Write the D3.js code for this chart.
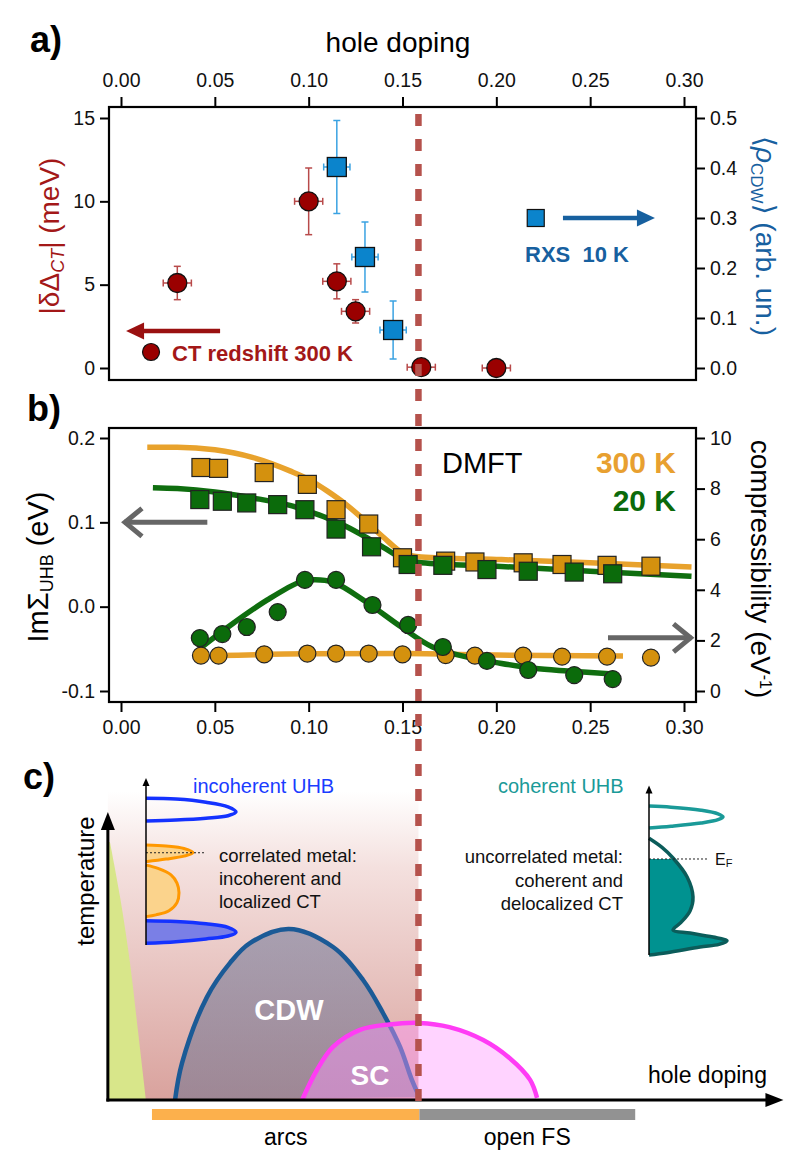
<!DOCTYPE html>
<html><head><meta charset="utf-8">
<script src="https://cdn.jsdelivr.net/npm/d3@7"></script>
<style>
body{margin:0;background:#fff}
svg{display:block}
text{font-family:"Liberation Sans",Arial,Helvetica,sans-serif}
</style>
</head><body>
<svg id="chart" width="800" height="1163"></svg>
<script>
// ---------------- data ----------------
const dopingTicks = [0, 0.05, 0.10, 0.15, 0.20, 0.25, 0.30];
const shiftTicks = [0, 5, 10, 15];
const rhoTicks = [0, 0.1, 0.2, 0.3, 0.4, 0.5];
const imSigmaTicks = [-0.1, 0.0, 0.1, 0.2];
const compTicks = [0, 2, 4, 6, 8, 10];

// panel a: CT redshift (300 K)
const ctDoping = [0.03, 0.10, 0.115, 0.125, 0.16, 0.20];
const ctShift = [5.1, 10.0, 5.2, 3.4, 0.05, 0.0];
const ctShiftErr = [1.0, 2.0, 1.05, 0.7, 0, 0];
const ctDopingErr = [0.0075, 0.0075, 0.0075, 0.0075, 0.0075, 0.0075];
// panel a: RXS CDW (10 K)
const rxsDoping = [0.115, 0.13, 0.145];
const rxsRho = [0.402, 0.222, 0.076];
const rxsRhoErr = [0.093, 0.07, 0.058];
const rxsDopingErr = [0.007, 0.007, 0.007];

// panel b: DMFT ImSigma (squares) and compressibility (circles)
const sq300Doping = [0.0426, 0.052, 0.0763, 0.0993, 0.1146, 0.132, 0.150, 0.173, 0.1886, 0.2143, 0.235, 0.259, 0.2824];
const sq300 = [0.165, 0.164, 0.159, 0.145, 0.115, 0.098, 0.058, 0.054, 0.053, 0.052, 0.050, 0.049, 0.048];
const sq20Doping = [0.042, 0.054, 0.067, 0.0835, 0.098, 0.1146, 0.1335, 0.153, 0.1715, 0.195, 0.217, 0.2415, 0.262];
const sq20 = [0.127, 0.125, 0.123, 0.121, 0.115, 0.092, 0.071, 0.050, 0.049, 0.044, 0.042, 0.041, 0.039];
const circ300Doping = [0.0426, 0.052, 0.0763, 0.0993, 0.1146, 0.132, 0.150, 0.173, 0.1886, 0.2143, 0.235, 0.259, 0.2824];
const circ300 = [1.40, 1.40, 1.45, 1.48, 1.48, 1.48, 1.45, 1.42, 1.40, 1.40, 1.36, 1.36, 1.32];
const circ20Doping = [0.042, 0.054, 0.067, 0.0835, 0.098, 0.1146, 0.134, 0.153, 0.1715, 0.195, 0.217, 0.2415, 0.262];
const circ20 = [2.09, 2.25, 2.53, 3.12, 4.39, 4.39, 3.40, 2.61, 1.74, 1.19, 0.83, 0.63, 0.47];
// fit curves
const fit300SqDoping = [0.014, 0.03, 0.05, 0.07, 0.09, 0.10, 0.11, 0.12, 0.13, 0.14, 0.15, 0.16, 0.20, 0.25, 0.304];
const fit300Sq = [0.189, 0.189, 0.186, 0.177, 0.161, 0.151, 0.137, 0.121, 0.102, 0.082, 0.064, 0.059, 0.056, 0.052, 0.047];
const fit20SqDoping = [0.017, 0.03, 0.05, 0.07, 0.09, 0.10, 0.11, 0.12, 0.13, 0.14, 0.15, 0.16, 0.20, 0.25, 0.304];
const fit20Sq = [0.141, 0.140, 0.136, 0.129, 0.120, 0.113, 0.105, 0.095, 0.083, 0.070, 0.057, 0.052, 0.048, 0.042, 0.036];
const fit20CircDoping = [0.043, 0.06, 0.078, 0.095, 0.102, 0.113, 0.131, 0.149, 0.166, 0.184, 0.202, 0.22, 0.238, 0.262];
const fit20Circ = [1.74, 2.69, 3.6, 4.3, 4.4, 4.3, 3.5, 2.55, 1.74, 1.35, 1.1, 0.9, 0.79, 0.67];
const fit300CircDoping = [0.052, 0.10, 0.15, 0.20, 0.2675];
const fit300Circ = [1.40, 1.47, 1.48, 1.42, 1.38];

// panel c: schematic phase diagram (doping, normalised temperature)
const greenDoping = [-0.0059, -0.0005, 0.0048, 0.009, 0.0133];
const greenT = [0.86, 0.677, 0.457, 0.233, 0.0];
const cdwDoping = [0.0288, 0.0325, 0.0458, 0.0581, 0.0687, 0.0895, 0.113, 0.129, 0.1396, 0.1487, 0.155, 0.159];
const cdwT = [0, 0.123, 0.343, 0.457, 0.523, 0.57, 0.51, 0.40, 0.29, 0.177, 0.067, 0.01];
const scDoping = [0.0965, 0.1044, 0.113, 0.127, 0.143, 0.159, 0.175, 0.193, 0.207, 0.218, 0.2217];
const scT = [0, 0.1, 0.177, 0.233, 0.252, 0.257, 0.243, 0.2, 0.14, 0.067, 0.007];
const arcsRange = [0.0165, 0.159];
const openFSRange = [0.159, 0.274];
const criticalDoping = 0.1585;
// inset spectra [energy, DOS]
const uhbTopLeft = [[0.9,0],[0.895,0.3],[0.876,0.6],[0.848,0.82],[0.816,0.9],[0.793,0.82],[0.778,0.6],[0.767,0.3],[0.761,0]];
const uhbBotLeft = [[0.149,0],[0.144,0.3],[0.13,0.6],[0.108,0.82],[0.078,0.9],[0.055,0.82],[0.037,0.6],[0.02,0.3],[0.010,0]];
const qpLeft = [[0.613,0],[0.607,0.2],[0.592,0.38],[0.566,0.47],[0.545,0.38],[0.527,0.2],[0.511,0]];
const humpLeft = [[0.49,0],[0.47,0.12],[0.43,0.25],[0.38,0.31],[0.32,0.33],[0.26,0.31],[0.21,0.23],[0.185,0.1],[0.174,0]];
const uhbTopRight = [[0.914,0],[0.907,0.22],[0.888,0.52],[0.866,0.69],[0.847,0.74],[0.83,0.69],[0.81,0.52],[0.79,0.22],[0.779,0]];
const bandRight = [[0.716,0],[0.66,0.13],[0.595,0.24],[0.48,0.38],[0.357,0.44],[0.27,0.41],[0.2,0.32],[0.153,0.24],[0.135,0.41],[0.11,0.64],[0.087,0.78],[0.065,0.7],[0.049,0.51],[0.014,0.18],[0,0]];
const fermiLeft = 0.566, fermiRight = 0.589;

// ---------------- scales ----------------
const svg = d3.select("#chart");
const x = d3.scaleLinear([0, 0.3], [121, 684]);
const yA = d3.scaleLinear([0, 15], [368, 118]);
const yA2 = d3.scaleLinear([0, 0.5], [368, 118]);
const yB = d3.scaleLinear([-0.1, 0.2], [691, 438]);
const yB2 = d3.scaleLinear([0, 10], [691, 438]);
const yC = d3.scaleLinear([0, 1], [1100, 800]);
const eL = d3.scaleLinear([0, 1], [945, 782]);
const dL = d3.scaleLinear([0, 1], [146, 246]);
const eR = d3.scaleLinear([0, 1], [955, 792]);
const dR = d3.scaleLinear([0, 1], [649, 749]);

const RED = "#9a0000", REDERR = "#b84a4a", REDTXT = "#a31818";
const BLUE = "#0b84cc", BLUEERR = "#3aa2e2", BLUETXT = "#17609f";
const OR_FILL = "#d4910e", OR_LINE = "#e8a22c", OR_TXT = "#e8a030";
const GR_FILL = "#0b6b0b", GR_LINE = "#0f6e0f", GR_TXT = "#0b6a0b";
const DASH = "#b5524c";
const TICKFONT = "DejaVu Sans";

const defs = svg.append("defs");

// ---------------- panel c (drawn first, background) ----------------
const pg = defs.append("linearGradient").attr("id", "pinkG").attr("x1", 0).attr("y1", 0).attr("x2", 0).attr("y2", 1);
pg.append("stop").attr("offset", "0%").attr("stop-color", "#ffffff");
pg.append("stop").attr("offset", "25%").attr("stop-color", "#f4e0de");
pg.append("stop").attr("offset", "100%").attr("stop-color", "#d9a29d");

const gC = svg.append("g");
gC.append("rect").attr("x", x(-0.007)).attr("y", yC(1.03)).attr("width", x(criticalDoping) - x(-0.007))
  .attr("height", yC(0) - yC(1.03)).attr("fill", "url(#pinkG)");

// green region
const greenPts = greenDoping.map((d, i) => [x(d), yC(greenT[i])]);
const greenPath = d3.line().curve(d3.curveCatmullRom)(greenPts) +
  `L${x(-0.007)},${yC(0)}L${x(-0.007)},${yC(0.86)}Z`;
gC.append("path").attr("d", greenPath).attr("fill", "#d8e68a");

// CDW dome
const domeLine = d3.line().curve(d3.curveCatmullRom);
const cdwPts = cdwDoping.map((d, i) => [x(d), yC(cdwT[i])]);
const cdwG = defs.append("linearGradient").attr("id", "cdwG").attr("x1", 0).attr("y1", 0).attr("x2", 0).attr("y2", 1);
cdwG.append("stop").attr("offset", "0%").attr("stop-color", "rgba(105,115,150,0.52)");
cdwG.append("stop").attr("offset", "100%").attr("stop-color", "rgba(100,108,140,0.5)");
gC.append("path").attr("d", domeLine(cdwPts) + "Z").attr("fill", "url(#cdwG)");
gC.append("path").attr("d", domeLine(cdwPts)).attr("fill", "none").attr("stroke", "#1b5a96").attr("stroke-width", 4.5);

// SC dome
const scPts = scDoping.map((d, i) => [x(d), yC(scT[i])]);
gC.append("path").attr("d", domeLine(scPts) + "Z").attr("fill", "rgba(255,150,255,0.42)");
gC.append("path").attr("d", domeLine(scPts)).attr("fill", "none").attr("stroke", "#ff3cf5").attr("stroke-width", 4.5);

gC.append("text").attr("x", x(0.0895)).attr("y", yC(0.3) + 10).attr("text-anchor", "middle")
  .attr("font-size", 29).attr("font-weight", "bold").attr("fill", "#fff").text("CDW");
gC.append("text").attr("x", x(0.1327)).attr("y", yC(0.083) + 10).attr("text-anchor", "middle")
  .attr("font-size", 28).attr("font-weight", "bold").attr("fill", "#fff").text("SC");

// axes of c
function arrowHead(g, tipX, tipY, dir, len, half, color) {
  let pts;
  if (dir === "up") pts = [[tipX, tipY], [tipX - half, tipY + len], [tipX + half, tipY + len]];
  else if (dir === "right") pts = [[tipX, tipY], [tipX - len, tipY - half], [tipX - len, tipY + half]];
  else pts = [[tipX, tipY], [tipX + len, tipY - half], [tipX + len, tipY + half]];
  g.append("path").attr("d", d3.line()(pts) + "Z").attr("fill", color);
}
gC.append("line").attr("x1", x(-0.007)).attr("x2", x(-0.007)).attr("y1", yC(0) + 1.5).attr("y2", yC(0.9))
  .attr("stroke", "#000").attr("stroke-width", 3);
arrowHead(gC, x(-0.007), yC(0.96), "up", 18, 7, "#000");
gC.append("line").attr("x1", x(-0.007) - 1.5).attr("x2", x(0.345)).attr("y1", yC(0)).attr("y2", yC(0))
  .attr("stroke", "#000").attr("stroke-width", 3);
arrowHead(gC, x(0.353), yC(0), "right", 18, 7, "#000");
gC.append("text").attr("transform", `translate(94,${yC(0.73)}) rotate(-90)`).attr("text-anchor", "middle")
  .attr("font-size", 24).attr("fill", "#000").text("temperature");
gC.append("text").attr("x", 648).attr("y", 1083).attr("font-size", 23).attr("fill", "#000").text("hole doping");

// bars
gC.append("rect").attr("x", x(arcsRange[0])).attr("y", 1109).attr("width", x(arcsRange[1]) - x(arcsRange[0]))
  .attr("height", 11).attr("fill", "#fcb04c");
gC.append("rect").attr("x", x(openFSRange[0])).attr("y", 1109).attr("width", x(openFSRange[1]) - x(openFSRange[0]))
  .attr("height", 11).attr("fill", "#929292");
gC.append("text").attr("x", x((arcsRange[0] + arcsRange[1]) / 2)).attr("y", 1145).attr("text-anchor", "middle")
  .attr("font-size", 23).text("arcs");
gC.append("text").attr("x", x((openFSRange[0] + openFSRange[1]) / 2)).attr("y", 1145).attr("text-anchor", "middle")
  .attr("font-size", 23).text("open FS");

// ---- insets ----
const specLine = (dS, eS) => d3.line().x(d => dS(d[1])).y(d => eS(d[0])).curve(d3.curveCatmullRom);
// left inset
const lL = specLine(dL, eL);
gC.append("path").attr("d", lL(humpLeft) + "Z").attr("fill", "#fbd38c");
gC.append("path").attr("d", lL(humpLeft)).attr("fill", "none").attr("stroke", "#ff9800").attr("stroke-width", 3);
gC.append("path").attr("d", lL(qpLeft) + "Z").attr("fill", "#fbd38c");
gC.append("path").attr("d", lL(qpLeft)).attr("fill", "none").attr("stroke", "#ff9800").attr("stroke-width", 3);
gC.append("path").attr("d", lL(uhbBotLeft) + "Z").attr("fill", "#7a7fe6");
gC.append("path").attr("d", lL(uhbBotLeft)).attr("fill", "none").attr("stroke", "#1432ff").attr("stroke-width", 3.5);
gC.append("path").attr("d", lL(uhbTopLeft)).attr("fill", "none").attr("stroke", "#1432ff").attr("stroke-width", 3.5);
gC.append("line").attr("x1", dL(0)).attr("x2", dL(0.59)).attr("y1", eL(fermiLeft)).attr("y2", eL(fermiLeft))
  .attr("stroke", "#222").attr("stroke-width", 1).attr("stroke-dasharray", "2,2");
gC.append("line").attr("x1", dL(0)).attr("x2", dL(0)).attr("y1", eL(0)).attr("y2", eL(0.985))
  .attr("stroke", "#000").attr("stroke-width", 1.5);
arrowHead(gC, dL(0), eL(1.025), "up", 8, 3.5, "#000");
gC.append("text").attr("x", 193).attr("y", 793).attr("font-size", 20).attr("fill", "#1a3cff").text("incoherent UHB");
["correlated metal:", "incoherent and", "localized CT"].forEach((t, i) => {
  gC.append("text").attr("x", 219).attr("y", 862 + i * 23).attr("font-size", 18.5).attr("fill", "#111").text(t);
});

// right inset
const lR = specLine(dR, eR);
defs.append("clipPath").attr("id", "belowEF").append("rect")
  .attr("x", 600).attr("y", eR(fermiRight)).attr("width", 200).attr("height", 200);
gC.append("path").attr("d", lR(bandRight) + "Z").attr("fill", "#009290").attr("clip-path", "url(#belowEF)");
gC.append("path").attr("d", lR(bandRight)).attr("fill", "none").attr("stroke", "#0b5c5a").attr("stroke-width", 3.5);
gC.append("path").attr("d", lR(uhbTopRight)).attr("fill", "none").attr("stroke", "#1a9a98").attr("stroke-width", 3.5);
gC.append("line").attr("x1", dR(0)).attr("x2", dR(0.58)).attr("y1", eR(fermiRight)).attr("y2", eR(fermiRight))
  .attr("stroke", "#222").attr("stroke-width", 1).attr("stroke-dasharray", "2,2");
gC.append("line").attr("x1", dR(0)).attr("x2", dR(0)).attr("y1", eR(0)).attr("y2", eR(1.0))
  .attr("stroke", "#000").attr("stroke-width", 1.5);
arrowHead(gC, dR(0), eR(1.04), "up", 8, 3.5, "#000");
const efT = gC.append("text").attr("x", 715).attr("y", 865).attr("font-size", 16).attr("fill", "#111");
efT.append("tspan").text("E");
efT.append("tspan").attr("font-size", 11).attr("dy", 2).text("F");
gC.append("text").attr("x", 498).attr("y", 793).attr("font-size", 20).attr("fill", "#1a9a98").text("coherent UHB");
["uncorrelated metal:", "coherent and", "delocalized CT"].forEach((t, i) => {
  gC.append("text").attr("x", 623).attr("y", 863 + i * 23.5).attr("text-anchor", "end").attr("font-size", 18.5).attr("fill", "#111").text(t);
});

// ---------------- helpers ----------------
function styleAxis(g) {
  g.select(".domain").remove();
  g.selectAll(".tick line").attr("stroke", "#000").attr("stroke-width", 2);
  g.selectAll(".tick text").attr("font-family", TICKFONT).attr("font-size", 19.5).attr("fill", "#111");
}
const fmt2 = d => d.toFixed(2), fmt1 = d => d.toFixed(1);

function errorBars(g, xs, ys, ex, ey, xScale, yScale, color, cap) {
  xs.forEach((xv, i) => {
    const cx = xScale(xv), cy = yScale(ys[i]);
    if (ex[i] > 0) {
      const x0 = xScale(xv - ex[i]), x1 = xScale(xv + ex[i]);
      g.append("line").attr("x1", x0).attr("x2", x1).attr("y1", cy).attr("y2", cy).attr("stroke", color).attr("stroke-width", 1.5);
      [x0, x1].forEach(xx => g.append("line").attr("x1", xx).attr("x2", xx).attr("y1", cy - cap).attr("y2", cy + cap)
        .attr("stroke", color).attr("stroke-width", 1.5));
    }
    if (ey[i] > 0) {
      const y0 = yScale(ys[i] - ey[i]), y1 = yScale(ys[i] + ey[i]);
      g.append("line").attr("x1", cx).attr("x2", cx).attr("y1", y0).attr("y2", y1).attr("stroke", color).attr("stroke-width", 1.5);
      [y0, y1].forEach(yy => g.append("line").attr("x1", cx - cap).attr("x2", cx + cap).attr("y1", yy).attr("y2", yy)
        .attr("stroke", color).attr("stroke-width", 1.5));
    }
  });
}

// ---------------- panel a ----------------
const gA = svg.append("g");
gA.append("rect").attr("x", 109).attr("y", 107).attr("width", 587).attr("height", 273)
  .attr("fill", "none").attr("stroke", "#000").attr("stroke-width", 2.2);
gA.append("g").attr("transform", "translate(0,107)")
  .call(d3.axisTop(x).tickValues(dopingTicks).tickFormat(fmt2).tickSize(10).tickPadding(10)).call(styleAxis);
gA.append("g").attr("transform", "translate(109,0)")
  .call(d3.axisLeft(yA).tickValues(shiftTicks).tickSize(9).tickPadding(5)).call(styleAxis);
gA.append("g").attr("transform", "translate(696,0)")
  .call(d3.axisRight(yA2).tickValues(rhoTicks).tickFormat(fmt1).tickSize(9).tickPadding(5)).call(styleAxis);

gA.append("text").attr("x", 398).attr("y", 52).attr("text-anchor", "middle").attr("font-size", 28).text("hole doping");

const labA = gA.append("text").attr("transform", "translate(59,236) rotate(-90)").attr("text-anchor", "middle")
  .attr("font-size", 28).attr("fill", REDTXT);
labA.append("tspan").text("|δΔ");
labA.append("tspan").attr("font-size", 18).attr("font-style", "italic").attr("dy", 5).text("CT");
labA.append("tspan").attr("dy", -5).text("|  (meV)");

const labA2 = gA.append("text").attr("transform", "translate(756,236) rotate(90)").attr("text-anchor", "middle")
  .attr("font-size", 28).attr("fill", BLUETXT);
labA2.append("tspan").attr("font-family", "DejaVu Sans").text("⟨");
labA2.append("tspan").attr("font-style", "italic").text("ρ");
labA2.append("tspan").attr("font-size", 17).attr("dy", 5).text("CDW");
labA2.append("tspan").attr("dy", -5).attr("font-family", "DejaVu Sans").text("⟩");
labA2.append("tspan").text(" (arb. un.)");

// error bars & markers
errorBars(gA, rxsDoping, rxsRho, rxsDopingErr, rxsRhoErr, x, yA2, BLUEERR, 3.5);
errorBars(gA, ctDoping, ctShift, ctDopingErr, ctShiftErr, x, yA, REDERR, 3.5);
gA.selectAll(".rxs").data(rxsDoping).join("rect")
  .attr("x", d => x(d) - 9.5).attr("y", (d, i) => yA2(rxsRho[i]) - 9.5).attr("width", 19).attr("height", 19)
  .attr("fill", BLUE).attr("stroke", "#111").attr("stroke-width", 1.3);
gA.selectAll(".ct").data(ctDoping).join("circle")
  .attr("cx", d => x(d)).attr("cy", (d, i) => yA(ctShift[i])).attr("r", 9.5)
  .attr("fill", RED).attr("stroke", "#111").attr("stroke-width", 1.3);

// legends a
gA.append("line").attr("x1", x(0.0528)).attr("x2", x(0.0085)).attr("y1", yA(2.22)).attr("y2", yA(2.22))
  .attr("stroke", "#9a1010").attr("stroke-width", 4.5);
arrowHead(gA, x(0.0027), yA(2.22), "left", 18, 8.5, "#9a1010");
gA.append("circle").attr("cx", x(0.016)).attr("cy", yA(0.96)).attr("r", 8.5).attr("fill", RED).attr("stroke", "#111").attr("stroke-width", 1.2);
gA.append("text").attr("x", x(0.0272)).attr("y", 361).attr("font-size", 22).attr("font-weight", "bold")
  .attr("fill", REDTXT).text("CT redshift 300 K");
gA.append("rect").attr("x", x(0.221) - 8.5).attr("y", yA2(0.3) - 8.5).attr("width", 17).attr("height", 17)
  .attr("fill", BLUE).attr("stroke", "#111").attr("stroke-width", 1.2);
gA.append("line").attr("x1", x(0.2355)).attr("x2", x(0.277)).attr("y1", yA2(0.3)).attr("y2", yA2(0.3))
  .attr("stroke", "#17609f").attr("stroke-width", 4.5);
arrowHead(gA, x(0.2845), yA2(0.3), "right", 18, 8.5, "#17609f");
gA.append("text").attr("x", 525).attr("y", 262).attr("font-size", 22).attr("font-weight", "bold")
  .attr("fill", BLUETXT).attr("xml:space", "preserve").style("white-space", "pre").text("RXS  10 K");

gA.append("text").attr("x", 30).attr("y", 52).attr("font-size", 36).attr("font-weight", "bold").text("a)");

// ---------------- panel b ----------------
const gB = svg.append("g");
gB.append("rect").attr("x", 109).attr("y", 428).attr("width", 587).attr("height", 274)
  .attr("fill", "none").attr("stroke", "#000").attr("stroke-width", 2.2);
gB.append("g").attr("transform", "translate(0,702)")
  .call(d3.axisBottom(x).tickValues(dopingTicks).tickFormat(fmt2).tickSize(10).tickPadding(8)).call(styleAxis);
gB.append("g").attr("transform", "translate(109,0)")
  .call(d3.axisLeft(yB).tickValues(imSigmaTicks).tickFormat(fmt1).tickSize(9).tickPadding(5)).call(styleAxis);
gB.append("g").attr("transform", "translate(696,0)")
  .call(d3.axisRight(yB2).tickValues(compTicks).tickSize(9).tickPadding(5)).call(styleAxis);

const labB = gB.append("text").attr("transform", "translate(48,567) rotate(-90)").attr("text-anchor", "middle")
  .attr("font-size", 29).attr("fill", "#000");
labB.append("tspan").text("ImΣ");
labB.append("tspan").attr("font-size", 18).attr("dy", 5).text("UHB");
labB.append("tspan").attr("dy", -5).text(" (eV)");

const labB2 = gB.append("text").attr("transform", "translate(751,569) rotate(90)").attr("text-anchor", "middle")
  .attr("font-size", 28).attr("fill", "#000");
labB2.append("tspan").text("compressibility (eV");
labB2.append("tspan").attr("font-size", 16).attr("dy", -9).text("-1");
labB2.append("tspan").attr("dy", 9).text(")");

const lineB = (xs, ys, yS) => d3.line().curve(d3.curveMonotoneX)(xs.map((d, i) => [x(d), yS(ys[i])]));
gB.append("path").attr("d", lineB(fit300SqDoping, fit300Sq, yB)).attr("fill", "none").attr("stroke", OR_LINE).attr("stroke-width", 5.5);
gB.append("path").attr("d", lineB(fit20SqDoping, fit20Sq, yB)).attr("fill", "none").attr("stroke", GR_LINE).attr("stroke-width", 5.5);
gB.append("path").attr("d", lineB(fit300CircDoping, fit300Circ, yB2)).attr("fill", "none").attr("stroke", OR_LINE).attr("stroke-width", 5.5);
gB.append("path").attr("d", d3.line().curve(d3.curveCatmullRom)(fit20CircDoping.map((d, i) => [x(d), yB2(fit20Circ[i])])))
  .attr("fill", "none").attr("stroke", GR_LINE).attr("stroke-width", 5.5);

function squares(xs, ys, yS, fill) {
  gB.append("g").selectAll("rect").data(xs).join("rect")
    .attr("x", d => x(d) - 9).attr("y", (d, i) => yS(ys[i]) - 9).attr("width", 18).attr("height", 18)
    .attr("fill", fill).attr("stroke", "#222").attr("stroke-width", 1.2);
}
function circles(xs, ys, yS, fill) {
  gB.append("g").selectAll("circle").data(xs).join("circle")
    .attr("cx", d => x(d)).attr("cy", (d, i) => yS(ys[i])).attr("r", 8.5)
    .attr("fill", fill).attr("stroke", "#222").attr("stroke-width", 1.2);
}
squares(sq300Doping, sq300, yB, OR_FILL);
squares(sq20Doping, sq20, yB, GR_FILL);
circles(circ300Doping, circ300, yB2, OR_FILL);
circles(circ20Doping, circ20, yB2, GR_FILL);

// gray arrows
function openArrow(g, x0, x1, y, color) {
  g.append("line").attr("x1", x0).attr("x2", x1).attr("y1", y).attr("y2", y).attr("stroke", color).attr("stroke-width", 5);
  const s = x1 > x0 ? -1 : 1;
  g.append("path").attr("d", d3.line()([[x1 + s * 18, y - 14], [x1 + s * 1, y], [x1 + s * 18, y + 14]]))
    .attr("fill", "none").attr("stroke", color).attr("stroke-width", 5);
}
openArrow(gB, x(0.046), x(0.0016), yB(0.1), "#666");
openArrow(gB, x(0.2595), x(0.304), yB2(2.1), "#666");

gB.append("text").attr("x", 442).attr("y", 473).attr("font-size", 29).text("DMFT");
gB.append("text").attr("x", 676).attr("y", 473).attr("text-anchor", "end").attr("font-size", 30)
  .attr("font-weight", "bold").attr("fill", OR_TXT).text("300 K");
gB.append("text").attr("x", 676).attr("y", 511).attr("text-anchor", "end").attr("font-size", 30)
  .attr("font-weight", "bold").attr("fill", GR_TXT).text("20 K");

gB.append("text").attr("x", 27).attr("y", 421).attr("font-size", 36).attr("font-weight", "bold").text("b)");
svg.append("text").attr("x", 23).attr("y", 789).attr("font-size", 36).attr("font-weight", "bold").text("c)");

// ---------------- dashed critical-doping line ----------------
svg.append("line").attr("x1", x(criticalDoping)).attr("x2", x(criticalDoping)).attr("y1", 114).attr("y2", 1101)
  .attr("stroke", DASH).attr("stroke-width", 6.5).attr("stroke-dasharray", "12,13");
</script>
</body></html>
